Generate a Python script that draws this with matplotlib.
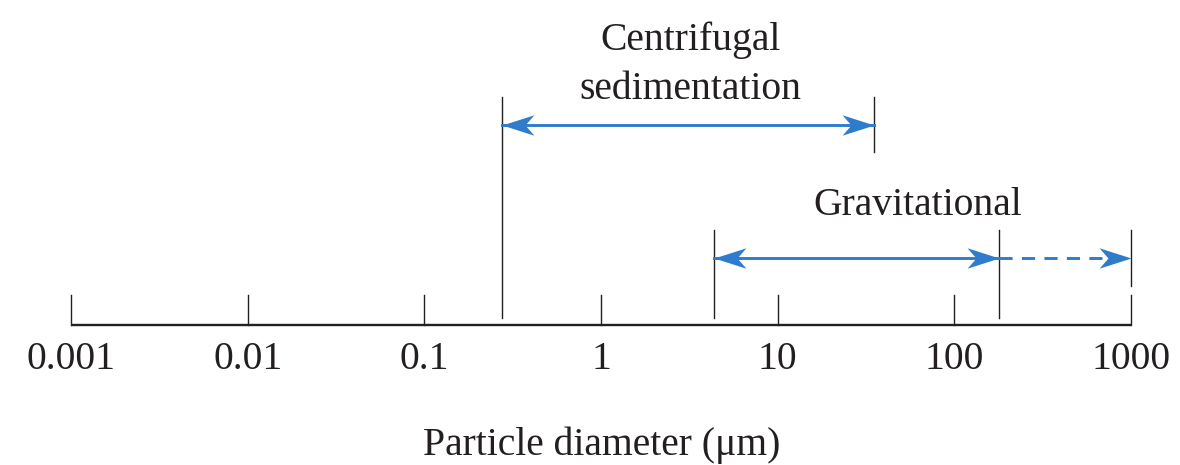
import matplotlib
matplotlib.use("Agg")
import matplotlib.pyplot as plt
from matplotlib.path import Path
import numpy as np

# ---- data ----
tick_values = [0.001, 0.01, 0.1, 1, 10, 100, 1000]
tick_labels = ["0.001", "0.01", "0.1", "1", "10", "100", "1000"]
centrifugal_range = [0.275, 35]
gravitational_range = [4.35, 178]
gravitational_extension = [178, 1000]
centrifugal_label = "Centrifugal\nsedimentation"
gravitational_label = "Gravitational"
xlabel = "Particle diameter (\u03bcm)"

# ---- style ----
W, H, DPI = 1180, 465, 100
BLUE = "#2f7ccc"
INK = "#231f20"
FONT = "Liberation Serif"
FS = 28.5

fig = plt.figure(figsize=(W / DPI, H / DPI), dpi=DPI)
ax = fig.add_axes([0, 0, 1, 1])
ax.set_xscale("log")
dec = 1060 / 6.0  # pixels per decade
x0 = 71
ax.set_xlim(10 ** (-3 - x0 / dec), 10 ** (3 + (W - 1131) / dec))
ax.set_ylim(H, 0)  # pixel-like vertical coordinates, top = 0
ax.axis("off")

# axis line and ticks
y_axis = 325
ax.plot([tick_values[0], tick_values[-1]], [y_axis, y_axis], color=INK, lw=1.7,
        solid_capstyle="butt")
for v, lab in zip(tick_values, tick_labels):
    ax.plot([v, v], [y_axis, 295], color=INK, lw=1.0)
    ax.text(v, 369, lab, ha="center", va="baseline", fontsize=FS,
            family=FONT, color=INK)

ax.text(10 ** ((602 - x0) / dec - 3), 455, xlabel, ha="center", va="baseline",
        fontsize=FS, family=FONT, color=INK)

# stealth arrow head marker (tip at origin, pointing right)
head_r = Path([(0, 0), (-1, 0.32), (-0.72, 0), (-1, -0.32), (0, 0)],
              [Path.MOVETO, Path.LINETO, Path.LINETO, Path.LINETO, Path.CLOSEPOLY])
head_l = Path([(0, 0), (1, 0.32), (0.72, 0), (1, -0.32), (0, 0)],
              [Path.MOVETO, Path.LINETO, Path.LINETO, Path.LINETO, Path.CLOSEPOLY])
MS = 46

# centrifugal range
cy = 125
ax.plot([centrifugal_range[0]] * 2, [97, 318], color=INK, lw=1.0)
ax.plot([centrifugal_range[1]] * 2, [97, 152], color=INK, lw=1.0)
ax.plot(centrifugal_range, [cy, cy], color=BLUE, lw=2.1)
ax.plot([centrifugal_range[0]], [cy], marker=head_l, ms=MS, color=BLUE, mew=0)
ax.plot([centrifugal_range[1]], [cy], marker=head_r, ms=MS, color=BLUE, mew=0)
cx = 10 ** ((690 - x0) / dec - 3)
ax.text(cx, 50, "Centrifugal", ha="center", va="baseline", fontsize=FS,
        family=FONT, color=INK)
ax.text(cx, 99, "sedimentation", ha="center", va="baseline", fontsize=FS,
        family=FONT, color=INK)

# gravitational range
gy = 258
ax.plot([gravitational_range[0]] * 2, [230, 318], color=INK, lw=1.0)
ax.plot([gravitational_range[1]] * 2, [230, 318], color=INK, lw=1.0)
ax.plot([gravitational_extension[1]] * 2, [230, 286], color=INK, lw=1.0)
ax.plot(gravitational_range, [gy, gy], color=BLUE, lw=2.1)
ax.plot([gravitational_range[0]], [gy], marker=head_l, ms=MS, color=BLUE, mew=0)
ax.plot([gravitational_range[1]], [gy], marker=head_r, ms=MS, color=BLUE, mew=0)
ax.plot(gravitational_extension, [gy, gy], color=BLUE, lw=2.1,
        dashes=(4.5, 3.2))
ax.plot([gravitational_extension[1]], [gy], marker=head_r, ms=MS, color=BLUE, mew=0)
gx = 10 ** ((918 - x0) / dec - 3)
ax.text(gx, 215, gravitational_label, ha="center", va="baseline", fontsize=FS,
        family=FONT, color=INK)

fig.savefig("out.png", dpi=DPI, facecolor="white")
